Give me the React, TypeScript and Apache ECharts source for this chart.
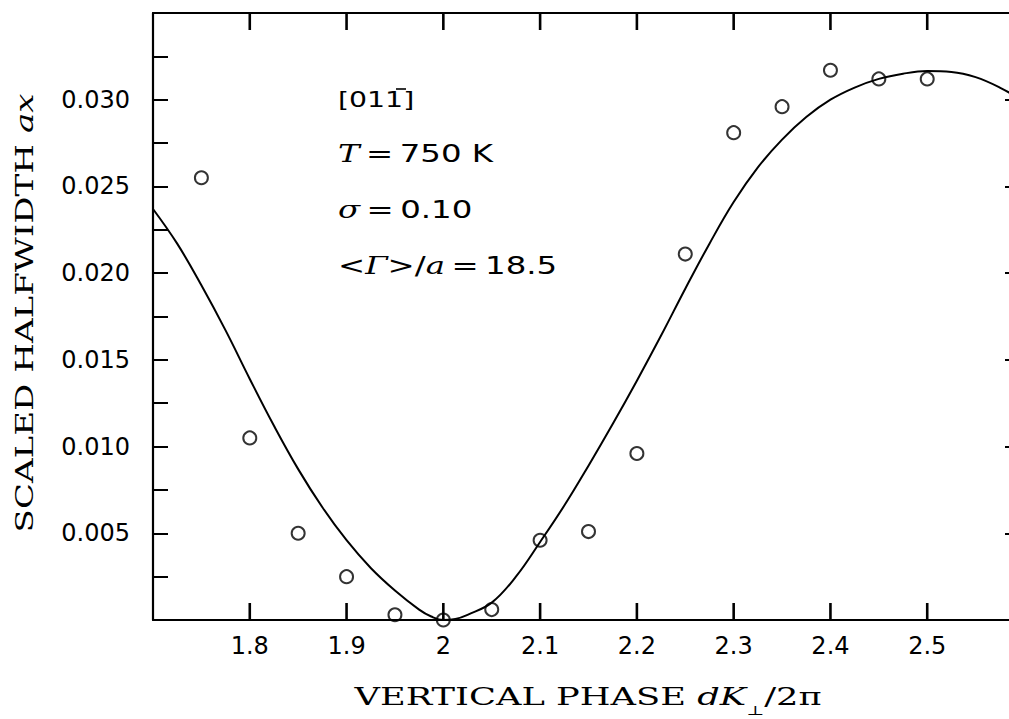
import React, { useEffect, useRef } from "react";
import * as echarts from "echarts";

// Measured scaled halfwidths (open circles)
const phaseX = [1.75, 1.8, 1.85, 1.9, 1.95, 2.0, 2.05, 2.1, 2.15, 2.2, 2.25, 2.3, 2.35, 2.4, 2.45, 2.5];
const halfwidth = [0.0255, 0.0105, 0.005, 0.0025, 0.0003, 0.0, 0.0006, 0.0046, 0.0051, 0.0096, 0.0211, 0.0281, 0.0296, 0.0317, 0.0312, 0.0312];

// Model curve (solid line)
const curveX = [
  1.7, 1.725, 1.75, 1.775, 1.8, 1.825, 1.85, 1.875, 1.9, 1.925, 1.95, 1.975, 1.9875, 2.0, 2.0125,
  2.025, 2.05, 2.075, 2.1, 2.125, 2.15, 2.175, 2.2, 2.225, 2.25, 2.275, 2.3, 2.325,
  2.35, 2.375, 2.4, 2.425, 2.45, 2.475, 2.5, 2.525, 2.55, 2.575, 2.6,
];
const curveY = [
  0.0237, 0.0217, 0.0193, 0.0167, 0.0139, 0.0112, 0.0087, 0.0065, 0.0046, 0.003, 0.0017, 0.0006, 0.0002, 0.0, 0.00006,
  0.0003, 0.001, 0.0025, 0.0045, 0.0066, 0.0089, 0.0113, 0.0138, 0.0164, 0.0191, 0.0217, 0.0241, 0.0261,
  0.0277, 0.029, 0.03, 0.0307, 0.0312, 0.0315, 0.03165, 0.0316, 0.0313, 0.0307, 0.0299,
];

// Tick positions on the horizontal frame edges
const xTicks = [1.8, 1.9, 2.0, 2.1, 2.2, 2.3, 2.4, 2.5];

const X_MIN = 1.7;
const X_MAX = 2.6;
const X_STEP = 0.1;
const Y_MIN = 0;
const Y_MAX = 0.035;
const Y_MINOR = 0.0025;
const Y_MAJOR = 0.005;

const THIN = "\u2009";
const annotations = [
  "[011]",
  "{it|T}" + THIN + "=" + THIN + "750 K",
  "{it|σ}" + THIN + "=" + THIN + "0.10",
  "<{it|Γ}>/{it|a}" + THIN + "=" + THIN + "18.5",
];
const annotationY = [100, 154, 210, 266];

const SANS = "'DejaVu Sans', sans-serif";
const SERIF = "'DejaVu Serif', serif";

const axisLine = () => ({ show: true, onZero: false, lineStyle: { color: "#000", width: 2.2 } });
const tick = (length: number) => ({
  show: true,
  inside: true,
  length,
  lineStyle: { color: "#000", width: 2 },
});

export default function App() {
  const ref = useRef<HTMLDivElement>(null);

  useEffect(() => {
    if (!ref.current) return;
    const chart = echarts.init(ref.current, undefined, { renderer: "svg" });

    chart.setOption({
      animation: false,
      backgroundColor: "#fff",
      grid: { left: 153, top: 13, right: 16, bottom: 99, containLabel: false },
      xAxis: [
        {
          type: "value",
          position: "bottom",
          min: X_MIN,
          max: X_MAX,
          interval: X_STEP,
          axisLine: axisLine(),
          axisTick: { show: false },
          splitLine: { show: false },
          axisLabel: {
            color: "#000",
            fontFamily: SANS,
            fontSize: 24,
            margin: 14,
            formatter: (v: number) =>
              v < X_MIN + 0.05 || v > X_MAX - 0.05 ? "" : String(Number(v.toFixed(1))),
          },
        },
        {
          type: "value",
          position: "top",
          min: X_MIN,
          max: X_MAX,
          interval: X_STEP,
          axisLine: axisLine(),
          axisTick: { show: false },
          splitLine: { show: false },
          axisLabel: { show: false },
        },
      ],
      yAxis: [
        {
          type: "value",
          position: "left",
          min: Y_MIN,
          max: Y_MAX,
          interval: Y_MINOR,
          axisLine: axisLine(),
          axisTick: tick(15),
          splitLine: { show: false },
          axisLabel: {
            color: "#000",
            fontFamily: SANS,
            fontSize: 24,
            margin: 23,
            formatter: (v: number) => {
              const k = Math.round(v / Y_MINOR);
              if (k === 0 || v > Y_MAX - Y_MINOR / 2 || k % 2 !== 0) return "";
              return v.toFixed(3);
            },
          },
        },
        {
          type: "value",
          position: "right",
          min: Y_MIN,
          max: Y_MAX,
          interval: Y_MAJOR,
          axisLine: axisLine(),
          axisTick: tick(19),
          splitLine: { show: false },
          axisLabel: { show: false },
        },
      ],
      series: [
        {
          // inward ticks on the bottom and top frame edges
          type: "custom",
          coordinateSystem: "cartesian2d",
          xAxisIndex: 0,
          yAxisIndex: 0,
          data: xTicks.map((v) => [v, Y_MIN]),
          encode: { x: 0, y: 1 },
          clip: false,
          silent: true,
          z: 4,
          renderItem: (_params: any, api: any) => {
            const v = api.value(0);
            const b = api.coord([v, Y_MIN]);
            const t = api.coord([v, Y_MAX]);
            const style = { stroke: "#000", lineWidth: 2.6, fill: "none" };
            return {
              type: "group",
              children: [
                { type: "line", shape: { x1: b[0], y1: b[1], x2: b[0], y2: b[1] - 17 }, style },
                { type: "line", shape: { x1: t[0], y1: t[1], x2: t[0], y2: t[1] + 17 }, style },
              ],
            };
          },
        },
        {
          type: "line",
          data: curveX.map((x, i) => [x, curveY[i]]),
          showSymbol: false,
          smooth: 0.4,
          lineStyle: { color: "#000", width: 2 },
          xAxisIndex: 0,
          yAxisIndex: 0,
          z: 2,
        },
        {
          type: "scatter",
          data: phaseX.map((x, i) => [x, halfwidth[i]]),
          symbol: "circle",
          symbolSize: 13,
          itemStyle: { color: "rgba(0,0,0,0)", borderColor: "#000", borderWidth: 2 },
          xAxisIndex: 0,
          yAxisIndex: 0,
          z: 3,
        },
      ],
      graphic: [
        {
          type: "text",
          x: 25,
          y: 313,
          rotation: Math.PI / 2,
          scaleX: 1.42,
          style: {
            text: "{n|SCALED HALFWIDTH }{i|ax}",
            align: "center",
            verticalAlign: "middle",
            fill: "#000",
            rich: {
              n: { fontFamily: SERIF, fontSize: 24, fill: "#000" },
              i: { fontFamily: SERIF, fontSize: 24, fontStyle: "italic", fill: "#000" },
            },
          },
        },
        {
          type: "text",
          x: 588,
          y: 697,
          scaleX: 1.47,
          style: {
            text: "{n|VERTICAL PHASE }{i|dK}{s|⊥}{n|/2π}",
            align: "center",
            verticalAlign: "middle",
            fill: "#000",
            rich: {
              n: { fontFamily: SERIF, fontSize: 24, lineHeight: 40, fill: "#000" },
              i: { fontFamily: SERIF, fontSize: 24, lineHeight: 40, fontStyle: "italic", fill: "#000" },
              s: { fontFamily: SERIF, fontSize: 13, lineHeight: 14, verticalAlign: "bottom", fill: "#000" },
            },
          },
        },
        ...annotations.map((t, i) => ({
          type: "text",
          x: 338,
          y: annotationY[i],
          scaleX: 1.35,
          style: {
            text: "{n|" + t.replace(/\{(\w+)\|([^}]*)\}/g, "}{$1|$2}{n|") + "}",
            align: "left",
            verticalAlign: "middle",
            fill: "#000",
            rich: {
              n: { fontFamily: SANS, fontSize: i === 0 ? 21 : 24, fill: "#000" },
              it: { fontFamily: SERIF, fontSize: 24, fontStyle: "italic", fill: "#000" },
            },
          },
        })),
        // overbar on the last index of the direction [011̄]
        {
          type: "line",
          shape: { x1: 396, y1: 89, x2: 406, y2: 89 },
          style: { stroke: "#000", lineWidth: 1.6 },
        },
      ],
    });

    return () => chart.dispose();
  }, []);

  return (
    <div style={{ position: "fixed", left: 0, top: 0, width: 1009, height: 719, overflow: "hidden", background: "#fff" }}>
      <div ref={ref} style={{ width: 1040, height: 719 }} />
    </div>
  );
}
